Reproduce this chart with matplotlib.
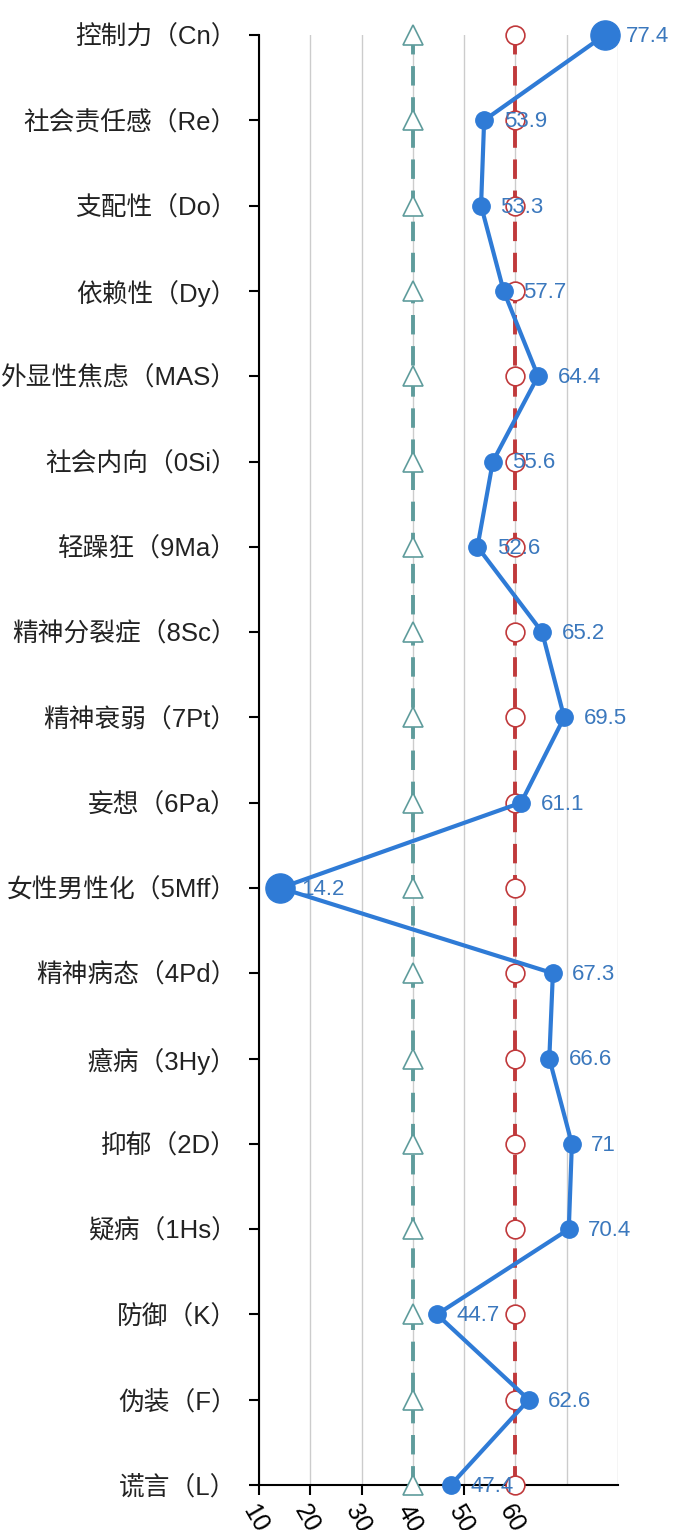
import matplotlib
matplotlib.use("Agg")
import matplotlib.pyplot as plt

plt.rcParams['font.family'] = ['Liberation Sans', 'Noto Sans CJK SC', 'DejaVu Sans']

# 从上到下的量表
labels = ["控制力（Cn）", "社会责任感（Re）", "支配性（Do）", "依赖性（Dy）",
          "外显性焦虑（MAS）", "社会内向（0Si）", "轻躁狂（9Ma）", "精神分裂症（8Sc）",
          "精神衰弱（7Pt）", "妄想（6Pa）", "女性男性化（5Mff）", "精神病态（4Pd）",
          "癔病（3Hy）", "抑郁（2D）", "疑病（1Hs）", "防御（K）", "伪装（F）", "谎言（L）"]
scores = [77.4, 53.9, 53.3, 57.7, 64.4, 55.6, 52.6, 65.2, 69.5, 61.1,
          14.2, 67.3, 66.6, 71, 70.4, 44.7, 62.6, 47.4]
big_points = ["控制力（Cn）", "女性男性化（5Mff）"]
low_ref = 40
high_ref = 60
xticks = [10, 20, 30, 40, 50, 60, 70, 80]

n = len(labels)
ys = [n - 1 - i for i in range(n)]

fig = plt.figure(figsize=(6.96, 15.3), dpi=100)
ax = fig.add_axes([0.372, 0.0294, 0.516, 0.9477])

blue = "#2f7bd6"
red = "#c0393b"
teal = "#5f9c9c"

ax.set_xlim(10, 80)
ax.set_ylim(0, n - 1)

for x in xticks:
    ax.axvline(x, color="#cccccc", lw=1, zorder=0)

ax.plot([high_ref] * n, ys, color=red, lw=2.8, dashes=(5, 3), zorder=2)
ax.plot([low_ref] * n, ys, color=teal, lw=2.8, dashes=(5, 3), zorder=2)
ax.plot([high_ref] * n, ys, ls="none", marker="o", ms=13.5, mfc="white",
        mec=red, mew=1.2, clip_on=False, zorder=3)
ax.plot([low_ref] * n, ys, ls="none", marker="^", ms=15, mfc="white",
        mec=teal, mew=1.2, clip_on=False, zorder=3)

ax.plot(scores, ys, color=blue, lw=3, clip_on=False, zorder=5)
for lab, s, y in zip(labels, scores, ys):
    ms = 21 if lab in big_points else 12.5
    ax.plot([s], [y], marker="o", ms=ms, color=blue, clip_on=False, zorder=6)
    txt = f"{s:g}"
    ax.annotate(txt, (s, y), xytext=(14 if lab not in big_points else 15, -1),
                textcoords="offset points", va="center", ha="left",
                fontsize=16, color="#3b78bd", zorder=4)

ax.set_yticks(ys)
ax.set_yticklabels(labels, fontsize=18.5, color="#222222")
ax.set_xticks(xticks[:6])
ax.set_xticklabels([str(v) for v in xticks[:6]], rotation=-60, ha="left",
                   va="top", rotation_mode="anchor", fontsize=18)

for side in ["top", "right"]:
    ax.spines[side].set_visible(False)
ax.spines["left"].set_linewidth(1.5)
ax.spines["bottom"].set_linewidth(1.5)
ax.tick_params(axis="y", length=7, width=1.5, pad=9)
ax.tick_params(axis="x", length=7, width=1.5, pad=4)

fig.savefig("out.png", dpi=100)
